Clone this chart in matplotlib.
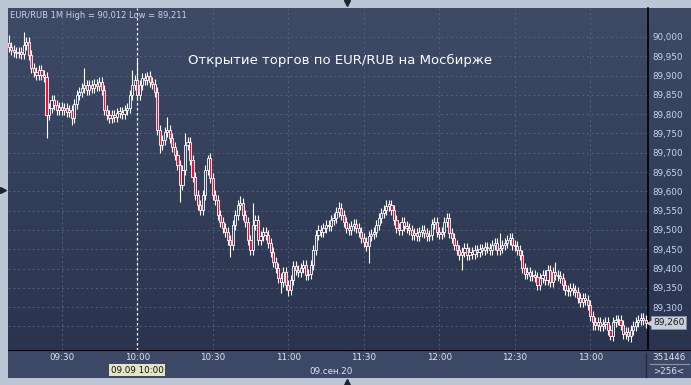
"""
EUR/RUB 1-minute candles, Moscow Exchange open, 09.09.20.
"""
import numpy as np
import matplotlib.pyplot as plt
from matplotlib.lines import Line2D
from matplotlib.transforms import blended_transform_factory

W, H = 691, 385

# minute closes from 09:09 onward (index 0 = 09:09)
first_open = 89.985
closes = [
    89.975, 89.966, 89.961, 89.958, 89.961, 89.956, 89.979, 89.987, 89.953, 89.920,
    89.909, 89.901, 89.914, 89.901, 89.896, 89.798, 89.816, 89.837, 89.824, 89.811,
    89.819, 89.811, 89.816, 89.806, 89.811, 89.790, 89.827, 89.850, 89.858, 89.868,
    89.876, 89.863, 89.876, 89.868, 89.879, 89.873, 89.884, 89.863, 89.811, 89.798,
    89.790, 89.798, 89.793, 89.803, 89.806, 89.801, 89.811, 89.816, 89.850, 89.876,
    89.889, 89.850, 89.876, 89.894, 89.889, 89.899, 89.884, 89.879, 89.858, 89.759,
    89.720, 89.733, 89.754, 89.759, 89.738, 89.715, 89.694, 89.668, 89.616, 89.655,
    89.720, 89.728, 89.681, 89.637, 89.590, 89.564, 89.551, 89.590, 89.655, 89.686,
    89.634, 89.590, 89.577, 89.538, 89.520, 89.505, 89.494, 89.474, 89.461, 89.513,
    89.538, 89.564, 89.569, 89.538, 89.520, 89.474, 89.448, 89.513, 89.526, 89.474,
    89.484, 89.494, 89.487, 89.466, 89.443, 89.417, 89.401, 89.375, 89.365, 89.391,
    89.357, 89.344, 89.370, 89.406, 89.396, 89.391, 89.401, 89.409, 89.383, 89.386,
    89.409, 89.448, 89.487, 89.500, 89.494, 89.505, 89.513, 89.510, 89.526, 89.531,
    89.546, 89.557, 89.538, 89.520, 89.505, 89.500, 89.510, 89.515, 89.505, 89.494,
    89.479, 89.469, 89.458, 89.484, 89.489, 89.494, 89.513, 89.531, 89.544, 89.551,
    89.562, 89.564, 89.551, 89.526, 89.505, 89.500, 89.520, 89.510, 89.505, 89.500,
    89.487, 89.492, 89.484, 89.494, 89.500, 89.492, 89.484, 89.487, 89.515, 89.520,
    89.494, 89.489, 89.494, 89.520, 89.531, 89.492, 89.479, 89.461, 89.448, 89.435,
    89.443, 89.453, 89.435, 89.443, 89.438, 89.448, 89.443, 89.451, 89.448, 89.456,
    89.453, 89.448, 89.461, 89.466, 89.448, 89.453, 89.461, 89.466, 89.474, 89.479,
    89.461, 89.458, 89.448, 89.435, 89.401, 89.386, 89.391, 89.380, 89.383, 89.378,
    89.357, 89.375, 89.383, 89.370, 89.396, 89.365, 89.391, 89.383, 89.380, 89.375,
    89.357, 89.344, 89.341, 89.349, 89.344, 89.339, 89.323, 89.313, 89.323, 89.318,
    89.305, 89.277, 89.261, 89.253, 89.261, 89.251, 89.256, 89.261, 89.240, 89.225,
    89.261, 89.266, 89.266, 89.253, 89.230, 89.235, 89.225, 89.240, 89.251, 89.261,
    89.266, 89.271, 89.266, 89.260,
]
# long wicks that stand out (minute index -> price)
spike_highs = {0: 90.005, 6: 90.012, 30: 89.920, 49: 89.914, 51: 89.946, 55: 89.909,
               63: 89.792, 70: 89.751, 79: 89.694, 92: 89.588, 97: 89.570,
               131: 89.572, 150: 89.577, 195: 89.492, 217: 89.417}
spike_lows = {15: 89.738, 25: 89.772, 60: 89.699, 68: 89.572, 88: 89.430,
              108: 89.336, 111: 89.328, 143: 89.414, 180: 89.396, 232: 89.240,
              239: 89.216, 247: 89.211}
default_wick = 0.013

time_pos = [21, 51, 81, 111, 141, 171, 201, 231]
time_labels = ["09:30", "10:00", "10:30", "11:00", "11:30", "12:00", "12:30", "13:00"]
price_levels = [90.000, 89.950, 89.900, 89.850, 89.800, 89.750, 89.700, 89.650,
                89.600, 89.550, 89.500, 89.450, 89.400, 89.350, 89.300, 89.250]
last_price = 89.260


def fx(px):
    return px / W


def fy(py):
    return 1 - py / H


fig = plt.figure(figsize=(W / 100, H / 100), dpi=100, facecolor="#bcc6d4")

# gradient background for plot + price scale
ax_bg = fig.add_axes([fx(8), fy(350), fx(683), 342 / H])
top = np.array([62, 74, 102]) / 255
bot = np.array([42, 52, 78]) / 255
t = np.linspace(0, 1, 200)[:, None, None]
grad = top * (1 - t) + bot * t
ax_bg.imshow(grad, aspect="auto", extent=[0, 1, 0, 1])
ax_bg.axis("off")

ax = fig.add_axes([fx(8), fy(350), fx(640), 342 / H])
ax.patch.set_alpha(0)
x0, x1 = -0.3, 253.9
ax.set_xlim(x0, x1)
ax.set_ylim(89.189, 90.075)
for s in ["top", "left", "bottom"]:
    ax.spines[s].set_visible(False)
ax.spines["right"].set_color("black")
ax.spines["right"].set_linewidth(1.2)

ax.set_xticks(time_pos)
ax.tick_params(axis="x", length=0, labelbottom=False)
ax.yaxis.tick_right()
ax.set_yticks(price_levels)
# 89,250 sits under the last-price tag
ax.set_yticklabels([f"{p:.3f}".replace(".", ",") if p > 89.26 else ""
                    for p in price_levels])
ax.tick_params(axis="y", length=0, pad=3, labelsize=6.3, labelcolor="#c4d6f2")
ax.grid(True, color="#52617f", linestyle=(0, (2, 3)), linewidth=0.7)
ax.set_axisbelow(True)

# crosshair at 10:00
ax.axvline(51, color="white", linestyle=(0, (2, 2)), linewidth=0.9, zorder=2)

# candles
opens = [first_open] + closes[:-1]
xs = np.arange(len(closes))
highs, lows, bottoms, heights, fills = [], [], [], [], []
for i, (o, c) in enumerate(zip(opens, closes)):
    highs.append(spike_highs.get(i, max(o, c) + default_wick))
    lows.append(spike_lows.get(i, min(o, c) - default_wick))
    bottoms.append(min(o, c))
    heights.append(max(abs(c - o), 0.004))
    fills.append("#f0103c" if c < o else "#33405c")
ax.vlines(xs, lows, highs, color="white", linewidth=0.8, zorder=3)
ax.bar(xs, heights, bottom=bottoms, width=0.85, color=fills,
       edgecolor="white", linewidth=0.6, zorder=4)

fig.text(fx(10), fy(15), "EUR/RUB 1M High = 90,012 Low = 89,211", fontsize=6.0,
         color="#c8d4e8", va="center", ha="left")
fig.text(fx(340), fy(60), "Открытие торгов по EUR/RUB на Мосбирже", fontsize=9.5,
         color="white", va="center", ha="center")

# time axis panel
ax_t = fig.add_axes([fx(8), fy(378), fx(683), 28 / H])
ax_t.set_facecolor("#3c4865")
ax_t.set_xlim(x0, x0 + (x1 - x0) * 683 / 640)
ax_t.set_ylim(0, 1)
ax_t.set_xticks([])
ax_t.set_yticks([])
for s in ax_t.spines.values():
    s.set_visible(False)
ax_t.axhline(1, color="black", linewidth=1.5)
for p, lab in zip(time_pos, time_labels):
    ax_t.text(p, 0.72, lab, fontsize=6.3, color="#dde6f2", ha="center", va="center")
ax_t.text(128, 0.25, "09.сен.20", fontsize=6.3, color="#dde6f2", ha="center", va="center")
ax_t.text(51, 0.28, "09.09 10:00", fontsize=6.3, color="#111111", ha="center",
          va="center", bbox=dict(boxstyle="square,pad=0.15", fc="#e6e4c6", ec="none"))

# right-bottom counter box
fig.add_artist(Line2D([fx(646), fx(646)], [fy(353), fy(377)], color="#252c3c",
                      linewidth=1, transform=fig.transFigure))
fig.add_artist(Line2D([fx(650), fx(689)], [fy(364), fy(364)], color="#8d98aa",
                      linewidth=0.8, transform=fig.transFigure))
fig.text(fx(669), fy(357), "351446", fontsize=6.3, color="#dde6f2", ha="center", va="center")
fig.text(fx(669), fy(372), ">256<", fontsize=6.3, color="#dde6f2", ha="center", va="center")

# last price tag
tr = blended_transform_factory(fig.transFigure, ax.transData)
fig.text(fx(653), last_price, "89,260", transform=tr, fontsize=6.5, color="#1a1a1a",
         ha="left", va="center", zorder=6,
         bbox=dict(boxstyle="square,pad=0.2", fc="#c9ced8", ec="#8a93a3", lw=0.6))
fig.add_artist(Line2D([fx(650)], [last_price], marker="<", color="#c9ced8",
                      markersize=4, transform=tr, zorder=7))

# frame markers
fig.add_artist(Line2D([fx(347)], [fy(3)], marker="v", color="#1e2430", markersize=5,
                      transform=fig.transFigure))
fig.add_artist(Line2D([fx(3)], [fy(190)], marker=">", color="#1e2430", markersize=5,
                      transform=fig.transFigure))
fig.add_artist(Line2D([fx(347)], [fy(381.5)], marker="^", color="#1e2430", markersize=5,
                      transform=fig.transFigure))

plt.savefig("out.png", dpi=100, facecolor=fig.get_facecolor())
plt.close()
